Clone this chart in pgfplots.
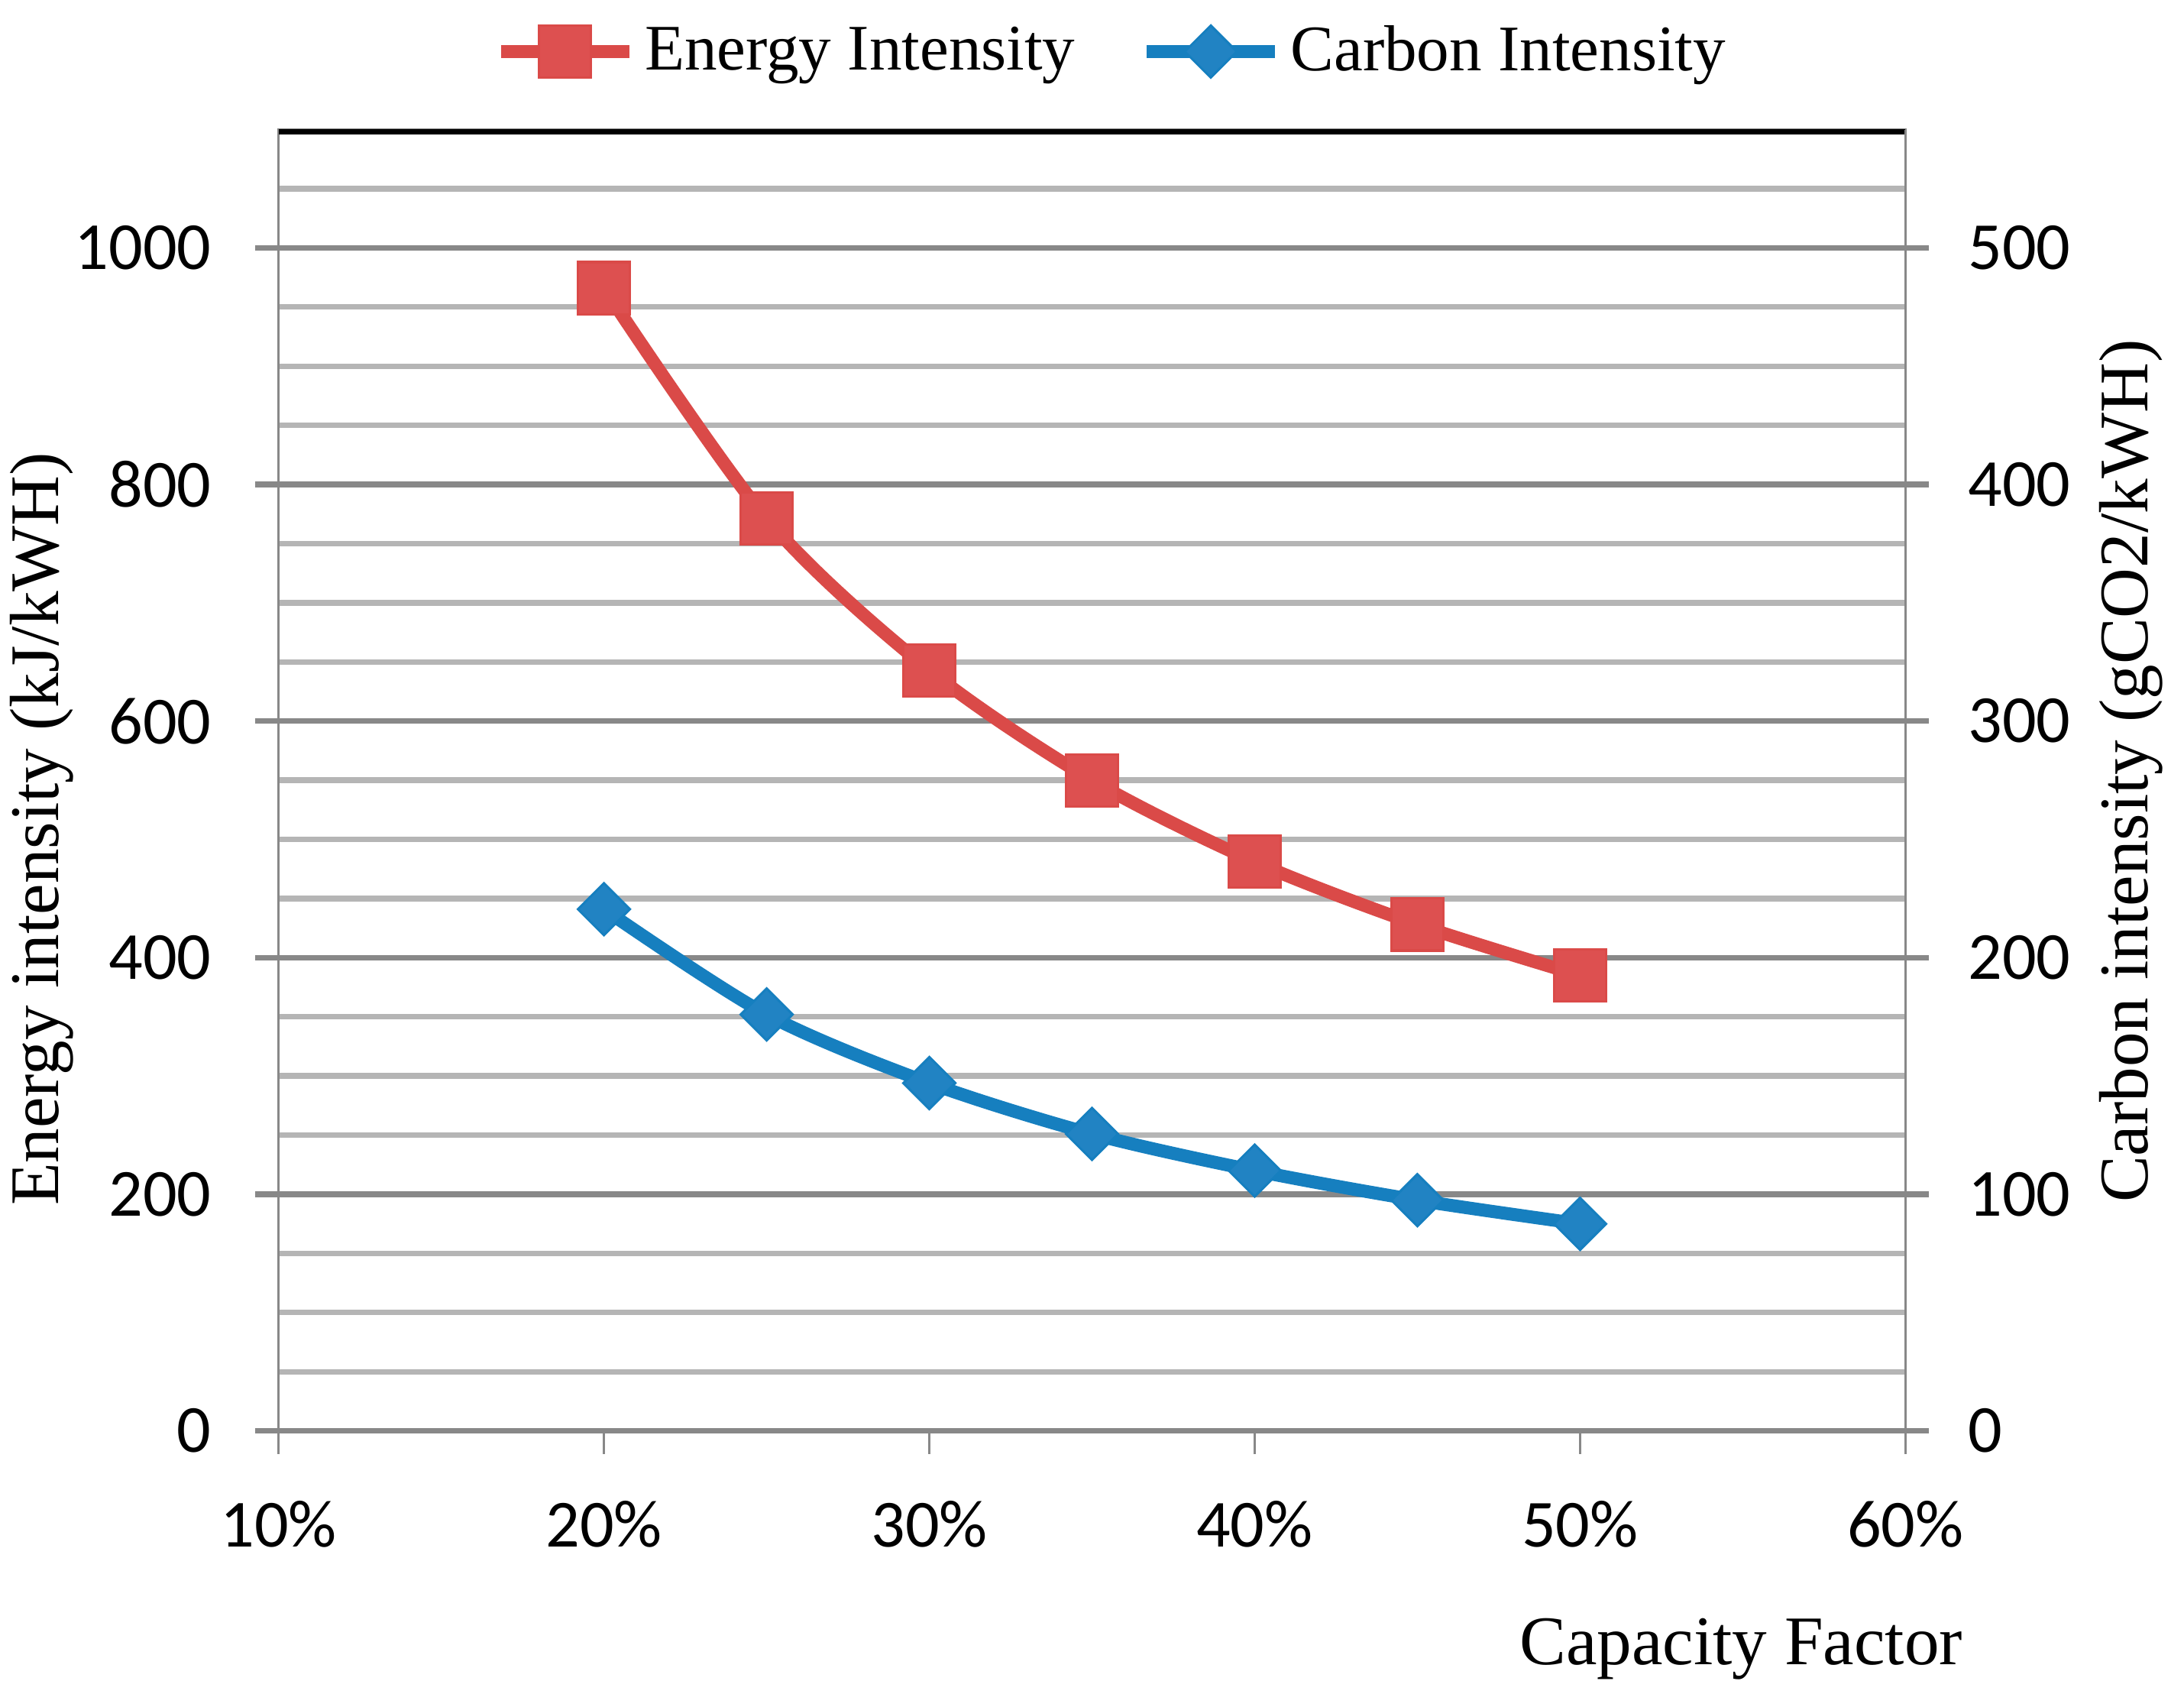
\documentclass[border=0pt]{standalone}
\usepackage{fontspec}
\setmainfont{Liberation Serif}
\newfontfamily\calfont{Carlito}
\usepackage{pgfplots}
\pgfplotsset{compat=1.18}

\definecolor{ered}{HTML}{DA4A48}
\definecolor{eredfill}{HTML}{DD5050}
\definecolor{cblue}{HTML}{167FBF}
\definecolor{cbluefill}{HTML}{2183C3}
\definecolor{gmaj}{HTML}{888888}
\definecolor{gmin}{HTML}{B5B5B5}

\pgfplotsset{
  common/.style={
    scale only axis,
    width=350.4pt, height=280.2pt,
    at={(0,0)}, anchor=south west,
    xmin=10, xmax=60,
    /pgf/number format/assume math mode=true,
    /pgf/number format/1000 sep={},
    tick label style={font=\calfont\fontsize{14.5}{16}\selectfont},
    tick align=outside,
    major tick length=5pt,
    minor tick length=0pt,
  },
  linelegend/.style={
    legend image code/.code={
      \draw[mark repeat=2,mark phase=2,##1] plot coordinates {(0pt,0pt)(13.8pt,0pt)(27.6pt,0pt)};
    }
  }
}

\begin{document}
\begin{tikzpicture}
\begin{axis}[
  common,
  ymin=0, ymax=1100,
  ytick={0,200,...,1000},
  minor ytick={50,100,150,250,300,350,450,500,550,650,700,750,850,900,950,1050},
  xtick={10,20,...,60},
  xticklabel={\pgfmathprintnumber{\tick}\%},
  xtick pos=bottom, ytick pos=left,
  xticklabel style={yshift=-6.6pt},
  yticklabel style={xshift=-6pt},
  ymajorgrids, yminorgrids,
  major grid style={gmaj, line width=1.2pt},
  minor grid style={gmin, line width=1.2pt},
  axis line style={gmaj, line width=0.6pt},
  x tick style={gmaj, line width=0.6pt},
  y tick style={gmaj, line width=1.2pt},
  xlabel={Capacity Factor},
  xlabel style={at={(axis description cs:0.899,0)}, anchor=center, yshift=-47pt,
    font=\fontsize{15}{17}\selectfont},
  every axis y label/.style={at={(axis description cs:0,0.4625)}, anchor=center,
    xshift=-51pt, rotate=90, font=\fontsize{15}{17}\selectfont},
  ylabel={Energy intensity (kJ/kWH)},
  legend style={at={(axis description cs:0.514,1)}, anchor=south, yshift=9pt,
    draw=none, fill=none, inner sep=0pt, font=\fontsize{14}{16}\selectfont,
    /tikz/every even column/.append style={column sep=12pt}},
  legend columns=2,
  legend cell align=left,
  linelegend,
]
\addplot[ered, line width=2.8pt, smooth, tension=0.5,
  mark=square*, mark size=5.6pt, mark options={fill=eredfill, draw=ered, line width=0.5pt}]
  coordinates {(20,966)(25,771)(30,643)(35,550)(40,481)(45,428)(50,385)};
\addlegendentry{Energy Intensity}
\addlegendimage{cblue, line width=2.8pt, mark=square*, mark size=3.96pt,
  mark options={rotate=45, fill=cbluefill, draw=cblue, line width=0.5pt}}
\addlegendentry{Carbon Intensity}
\draw[black, line width=2pt] (rel axis cs:0,1) -- (rel axis cs:1,1);
\end{axis}
\begin{axis}[
  common,
  ymin=0, ymax=550,
  ytick={0,100,...,500},
  axis y line*=right,
  axis x line=none,
  yticklabel style={xshift=5pt},
  y tick style={gmaj, line width=1.2pt},
  axis line style={gmaj, line width=0.6pt},
  every axis y label/.style={at={(axis description cs:1,0.507)}, anchor=center,
    xshift=48.6pt, rotate=90, font=\fontsize{15}{17}\selectfont},
  ylabel={Carbon intensity (gCO2/kWH)},
]
\addplot[cblue, line width=2.8pt, smooth, tension=0.5,
  mark=square*, mark size=3.96pt, mark options={rotate=45, fill=cbluefill, draw=cblue, line width=0.5pt}]
  coordinates {(20,220.5)(25,176)(30,147)(35,125.5)(40,110)(45,97.5)(50,87.5)};
\end{axis}
\pgfresetboundingbox
\path[use as bounding box] (-60pt,-59.4pt) rectangle (410.4pt,308.1pt);
\end{tikzpicture}
\end{document}
